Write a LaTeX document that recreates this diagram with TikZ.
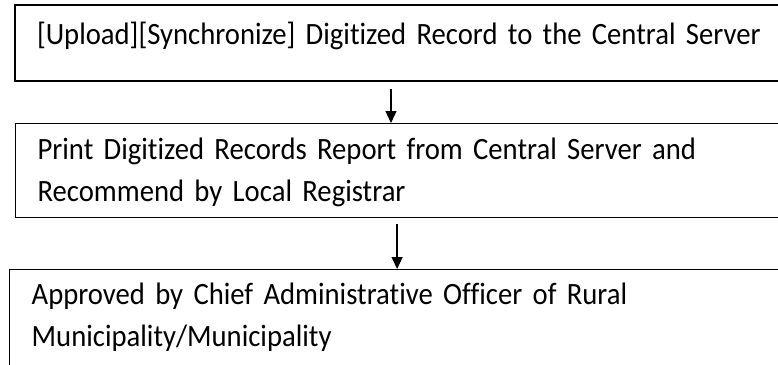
\documentclass[tikz,border=0pt]{standalone}
\usepackage{fontspec}
\setmainfont[Ligatures=NoCommon, FakeStretch=0.925, WordSpace=0.7]{Carlito}
\usetikzlibrary{arrows.meta, positioning, calc}
\tikzstyle{arrow} = [line width=1.3pt,-{Triangle[width=11pt,length=12pt]}]

\begin{document}
\begin{tikzpicture}[x=1pt, y=1pt]
\tikzstyle{process} = [rectangle, draw=black, anchor=north west, align=left, inner xsep=22pt, inner ysep=0pt, font=\fontsize{31}{42}\selectfont]

\useasboundingbox (0,0) rectangle (778,-364);

\node (upload) [process, line width=2pt, text width=732pt, text height=39pt, text depth=37pt] at (14,-4) {[Upload][Synchronize] Digitized Record to the Central Server};
\node (report) [process, line width=1.2pt, text width=731pt, text height=36pt, text depth=58pt] at (15,-123) {Print Digitized Records Report from Central Server and\\Recommend by Local Registrar};
\node (approve) [process, line width=1.4pt, text width=737pt, text height=35pt, text depth=100pt] at (9,-269) {Approved by Chief Administrative Officer of Rural\\Municipality/Municipality};

\draw [arrow] ([xshift=-12pt, yshift=-7pt]upload.south) -- ([xshift=-12pt]upload.south |- report.north);
\draw [arrow] ([xshift=-6pt, yshift=-6pt]report.south) -- ([xshift=-6pt]report.south |- approve.north);

\end{tikzpicture}
\end{document}
